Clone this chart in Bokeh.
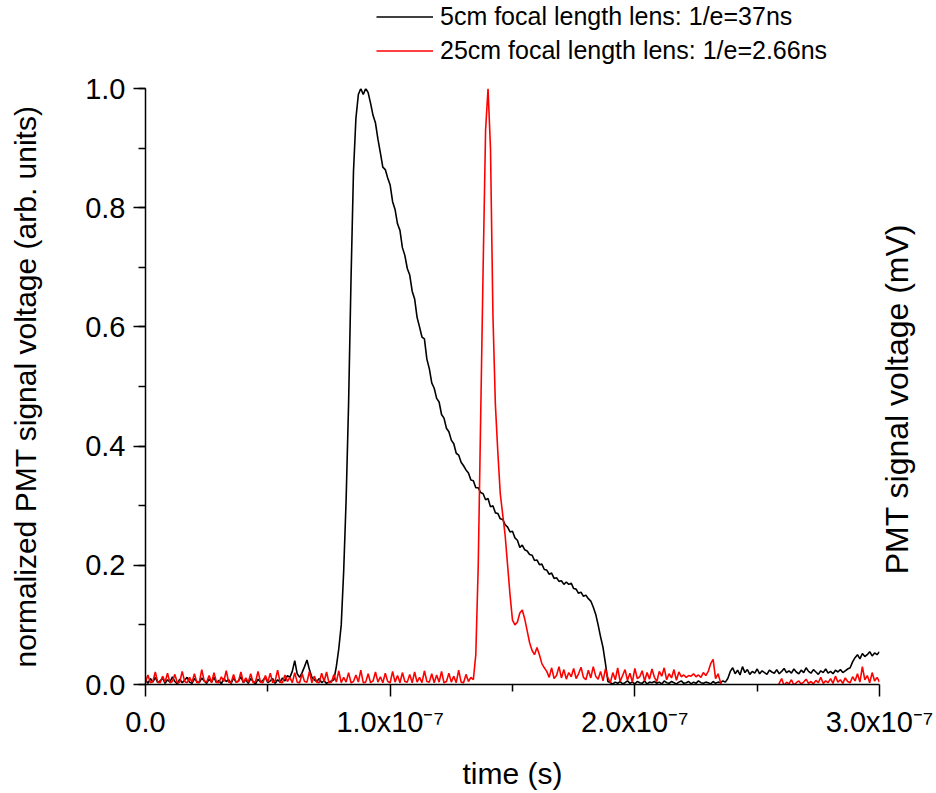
import math
from bokeh.plotting import figure
from bokeh.layouts import column
from bokeh.models import (Range1d, LinearAxis, FixedTicker, SingleIntervalTicker,
                          CustomJSTickFormatter, Legend, LegendItem, ColumnDataSource)
from bokeh.embed import file_html
from bokeh.resources import INLINE

# ---------------- data (time in ns, sampled every 1 ns) ----------------
t_ns = list(range(0, 301))

black_v = [
    # 0-69 baseline
    0.008, 0.002, 0.010, 0.004, 0.012, 0.003, 0.006, 0.011, 0.002, 0.008,
    0.004, 0.013, 0.005, 0.001, 0.009, 0.003, 0.007, 0.012, 0.004, 0.002,
    0.010, 0.005, 0.003, 0.011, 0.006, 0.002, 0.009, 0.004, 0.012, 0.003,
    0.007, 0.001, 0.010, 0.005, 0.008, 0.002, 0.011, 0.004, 0.006, 0.013,
    0.003, 0.008, 0.002, 0.010, 0.005, 0.001, 0.009, 0.004, 0.007, 0.012,
    0.003, 0.006, 0.010, 0.002, 0.008, 0.004, 0.011, 0.006, 0.015, 0.012,
    0.022, 0.040, 0.018, 0.012, 0.020, 0.030, 0.041, 0.025, 0.012, 0.008,
    # 70-76
    0.005, 0.010, 0.003, 0.006, 0.002, 0.004, 0.006,
    # 77-91 rise and peak
    0.008, 0.030, 0.060, 0.100, 0.190, 0.310, 0.470, 0.680, 0.860, 0.950,
    0.990, 1.000, 0.990, 1.000, 0.993,
    # 92-189 decay
    0.975, 0.955, 0.942, 0.915, 0.892, 0.868, 0.864, 0.850, 0.838, 0.810,
    0.797, 0.773, 0.762, 0.733, 0.720, 0.698, 0.687, 0.660, 0.647, 0.616,
    0.600, 0.583, 0.580, 0.546, 0.530, 0.506, 0.497, 0.480, 0.474, 0.453,
    0.447, 0.430, 0.424, 0.410, 0.404, 0.388, 0.385, 0.373, 0.367, 0.360,
    0.355, 0.343, 0.342, 0.330, 0.330, 0.322, 0.320, 0.310, 0.312, 0.298,
    0.300, 0.288, 0.287, 0.278, 0.277, 0.268, 0.264, 0.256, 0.257, 0.246,
    0.242, 0.230, 0.234, 0.226, 0.224, 0.218, 0.217, 0.208, 0.209, 0.201,
    0.202, 0.193, 0.192, 0.185, 0.187, 0.178, 0.179, 0.173, 0.174, 0.168,
    0.172, 0.168, 0.170, 0.161, 0.160, 0.153, 0.155, 0.148, 0.150, 0.144,
    0.140, 0.130, 0.118, 0.100, 0.080, 0.062, 0.035, 0.005,
    # 190-237 near zero
    0.003, 0.001, 0.004, 0.002, 0.005, 0.001, 0.003, 0.006, 0.002, 0.004,
    0.001, 0.005, 0.003, 0.002, 0.006, 0.001, 0.004, 0.003, 0.005, 0.002,
    0.004, 0.001, 0.006, 0.003, 0.002, 0.005, 0.003, 0.001, 0.004, 0.006,
    0.002, 0.003, 0.005, 0.001, 0.004, 0.002, 0.006, 0.003, 0.002, 0.004,
    0.003, 0.001, 0.005, 0.002, 0.004, 0.003, 0.006, 0.004,
    # 238-289 small offset
    0.010, 0.022, 0.028, 0.018, 0.024, 0.016, 0.030, 0.020, 0.025, 0.017,
    0.022, 0.019, 0.026, 0.018, 0.023, 0.020, 0.017, 0.024, 0.021, 0.019,
    0.025, 0.018, 0.022, 0.027, 0.020, 0.023, 0.019, 0.026, 0.021, 0.018,
    0.024, 0.020, 0.028, 0.022, 0.019, 0.025, 0.021, 0.017, 0.023, 0.020,
    0.026, 0.019, 0.022, 0.018, 0.024, 0.021, 0.025, 0.020, 0.023, 0.026,
    0.028, 0.038,
    # 290-300
    0.045, 0.050, 0.043, 0.052, 0.047, 0.050, 0.055, 0.048, 0.053, 0.050, 0.055,
]

red_v = [
    # 0-134 baseline
    0.004, 0.016, 0.003, 0.005, 0.021, 0.004, 0.003, 0.014, 0.004, 0.019,
    0.003, 0.005, 0.017, 0.003, 0.004, 0.022, 0.005, 0.003, 0.012, 0.004,
    0.018, 0.003, 0.004, 0.025, 0.006, 0.004, 0.015, 0.003, 0.020, 0.004,
    0.003, 0.013, 0.005, 0.023, 0.004, 0.003, 0.017, 0.004, 0.005, 0.021,
    0.003, 0.011, 0.004, 0.018, 0.003, 0.005, 0.022, 0.004, 0.003, 0.015,
    0.004, 0.019, 0.003, 0.006, 0.024, 0.004, 0.003, 0.016, 0.005, 0.012,
    0.003, 0.020, 0.004, 0.003, 0.018, 0.005, 0.004, 0.022, 0.003, 0.014,
    0.004, 0.003, 0.019, 0.005, 0.021, 0.003, 0.004, 0.017, 0.004, 0.023,
    0.003, 0.012, 0.004, 0.020, 0.003, 0.005, 0.016, 0.004, 0.024, 0.003,
    0.004, 0.018, 0.003, 0.006, 0.021, 0.004, 0.013, 0.003, 0.019, 0.005,
    0.003, 0.022, 0.004, 0.015, 0.003, 0.020, 0.005, 0.004, 0.017, 0.003,
    0.021, 0.004, 0.012, 0.003, 0.023, 0.005, 0.004, 0.018, 0.003, 0.016,
    0.004, 0.022, 0.003, 0.005, 0.019, 0.004, 0.014, 0.003, 0.024, 0.004,
    0.003, 0.017, 0.005, 0.012, 0.008,
    # 135-164 peak and bump
    0.050, 0.200, 0.450, 0.700, 0.930, 1.000, 0.900, 0.620, 0.470, 0.390,
    0.320, 0.285, 0.250, 0.200, 0.150, 0.108, 0.100, 0.105, 0.120, 0.125,
    0.110, 0.090, 0.070, 0.057, 0.050, 0.062, 0.050, 0.035, 0.028, 0.022,
    # 165-235 tail noise
    0.012, 0.028, 0.010, 0.015, 0.030, 0.011, 0.025, 0.009, 0.020, 0.013,
    0.027, 0.010, 0.018, 0.029, 0.012, 0.008, 0.024, 0.011, 0.030, 0.014,
    0.009, 0.022, 0.006, 0.026, 0.011, 0.003, 0.020, 0.008, 0.028, 0.005,
    0.015, 0.025, 0.007, 0.019, 0.004, 0.027, 0.010, 0.013, 0.023, 0.006,
    0.020, 0.009, 0.026, 0.012, 0.005, 0.022, 0.014, 0.028, 0.008, 0.018,
    0.011, 0.025, 0.007, 0.021, 0.013, 0.016, 0.012, 0.015, 0.014, 0.018,
    0.013, 0.016, 0.012, 0.020, 0.015, 0.022, 0.035, 0.042, 0.010, 0.018,
    0.004,
    # 236-258 slightly negative
    -0.008, -0.010, -0.006, -0.012, -0.009, -0.007, -0.011, -0.008, -0.010, -0.006,
    -0.009, -0.012, -0.007, -0.010, -0.008, -0.011, -0.006, -0.009, -0.010, -0.007,
    -0.008, -0.011, -0.005,
    # 259-300
    0.002, 0.010, -0.002, 0.004, 0.001, 0.008, -0.001, 0.003, 0.006, 0.001,
    0.004, 0.009, 0.002, 0.005, 0.001, 0.007, 0.003, 0.012, 0.002, 0.006,
    0.003, 0.010, 0.002, 0.014, 0.004, 0.008, 0.002, 0.011, 0.005, 0.003,
    0.013, 0.006, 0.018, 0.004, 0.030, 0.008, 0.015, 0.003, 0.020, 0.006,
    0.012, 0.004,
]

series_labels = ["5cm focal length lens: 1/e=37ns", "25cm focal length lens: 1/e=2.66ns"]
series_colors = ["black", "#ff0000"]
x_major_ticks = [0.0, 1e-7, 2e-7, 3e-7]
x_minor_ticks = [0.5e-7, 1.5e-7, 2.5e-7]
right_title = "PMT signal voltage (mV)"

assert len(black_v) == len(t_ns), len(black_v)
assert len(red_v) == len(t_ns), len(red_v)

t_s = [v * 1e-9 for v in t_ns]
src_black = ColumnDataSource(dict(t=t_s, v=black_v))
src_red = ColumnDataSource(dict(t=t_s, v=red_v))

FONT = "Liberation Sans"
W, H = 936, 793
LEG_H = 70                      # height of the strip that holds the legend
MAIN_H = H - LEG_H
LEFT, RIGHT = 145, 879
TOP_IN_MAIN = 88 - LEG_H        # frame top inside the main figure
BOTTOM_IN_MAIN = 684 - LEG_H

# ---------------- legend strip (its frame is aligned with the main plot's frame) ----------------
leg = figure(width=W, height=LEG_H, output_backend="svg", toolbar_location=None,
             x_range=Range1d(0, 3e-7), y_range=Range1d(5, 6),
             x_axis_type=None, y_axis_type=None,
             min_border_left=0, min_border_right=0, min_border_top=0, min_border_bottom=0)
leg.outline_line_color = None
leg.xgrid.visible = False
leg.ygrid.visible = False
# same series as the main plot; they lie outside this strip's y-range, only their legend glyphs show
lr1 = leg.line("t", "v", source=src_black, line_color=series_colors[0], line_width=1.6)
lr2 = leg.line("t", "v", source=src_red, line_color=series_colors[1], line_width=1.6)
legend = Legend(items=[LegendItem(label=series_labels[0], renderers=[lr1]),
                       LegendItem(label=series_labels[1], renderers=[lr2])],
                location=(376 - LEFT, LEG_H - 55 - 10),
                label_text_font=FONT, label_text_font_size="25px", label_text_color="black",
                glyph_width=57, glyph_height=25, label_height=25,
                label_standoff=7, spacing=5, padding=0, margin=0,
                border_line_alpha=0, background_fill_alpha=0)
leg.add_layout(legend)

# ---------------- main plot ----------------
p = figure(width=W, height=MAIN_H, output_backend="svg", toolbar_location=None,
           x_range=Range1d(0, 3e-7), y_range=Range1d(0, 1.0),
           x_axis_type=None, y_axis_type=None,
           min_border_left=LEFT, min_border_right=W - RIGHT,
           min_border_top=TOP_IN_MAIN, min_border_bottom=MAIN_H - BOTTOM_IN_MAIN)
p.outline_line_color = None

r1 = p.line("t", "v", source=src_black, line_color=series_colors[0], line_width=1.6)
r2 = p.line("t", "v", source=src_red, line_color=series_colors[1], line_width=1.6)

sup_js = """
const sup = {"-":"\u207b","0":"\u2070","1":"\u00b9","2":"\u00b2","3":"\u00b3","4":"\u2074",
             "5":"\u2075","6":"\u2076","7":"\u2077","8":"\u2078","9":"\u2079"};
if (Math.abs(tick) < 1e-15) { return "0.0"; }
const e = Math.floor(Math.log10(Math.abs(tick)) + 1e-9);
const m = tick / Math.pow(10, e);
return m.toFixed(1) + "x10" + String(e).split("").map(c => sup[c]).join("");
"""

xaxis = LinearAxis(ticker=FixedTicker(ticks=x_major_ticks, minor_ticks=x_minor_ticks),
                   formatter=CustomJSTickFormatter(code=sup_js),
                   axis_label="time (s)")
yaxis = LinearAxis(ticker=SingleIntervalTicker(interval=0.2, num_minor_ticks=2),
                   formatter=CustomJSTickFormatter(code="return tick.toFixed(1);"),
                   axis_label="normalized PMT signal voltage (arb. units)")
for ax in (xaxis, yaxis):
    ax.axis_line_width = 1.5
    ax.major_tick_line_width = 1.5
    ax.minor_tick_line_width = 1.5
    ax.major_tick_in = 0
    ax.major_tick_out = 12
    ax.minor_tick_in = 0
    ax.minor_tick_out = 7
    ax.major_label_text_font = FONT
    ax.major_label_text_font_size = "29px"
    ax.major_label_text_color = "black"
    ax.axis_label_text_font = FONT
    ax.axis_label_text_font_size = "30px"
    ax.axis_label_text_font_style = "normal"
    ax.axis_label_text_color = "black"
xaxis.major_label_standoff = 9
xaxis.axis_label_standoff = 16
yaxis.major_label_standoff = 8
yaxis.axis_label_standoff = 40
p.add_layout(xaxis, "below")
p.add_layout(yaxis, "left")

# right-hand axis: no line, no ticks; its single (invisible) tick carries the axis title,
# written bottom-to-top like the original
raxis = LinearAxis(ticker=FixedTicker(ticks=[0.185]),
                   formatter=CustomJSTickFormatter(code="return " + repr(right_title) + ";"),
                   axis_line_color=None, major_tick_line_color=None, minor_tick_line_color=None,
                   major_tick_out=0, major_tick_in=0, minor_tick_out=0, minor_tick_in=0,
                   major_label_standoff=18, major_label_orientation=math.pi / 2,
                   major_label_text_font=FONT, major_label_text_font_size="32px",
                   major_label_text_color="black")
p.add_layout(raxis, "right")

layout = column(leg, p, spacing=0)
open("out.html", "w").write(file_html(layout, INLINE))
